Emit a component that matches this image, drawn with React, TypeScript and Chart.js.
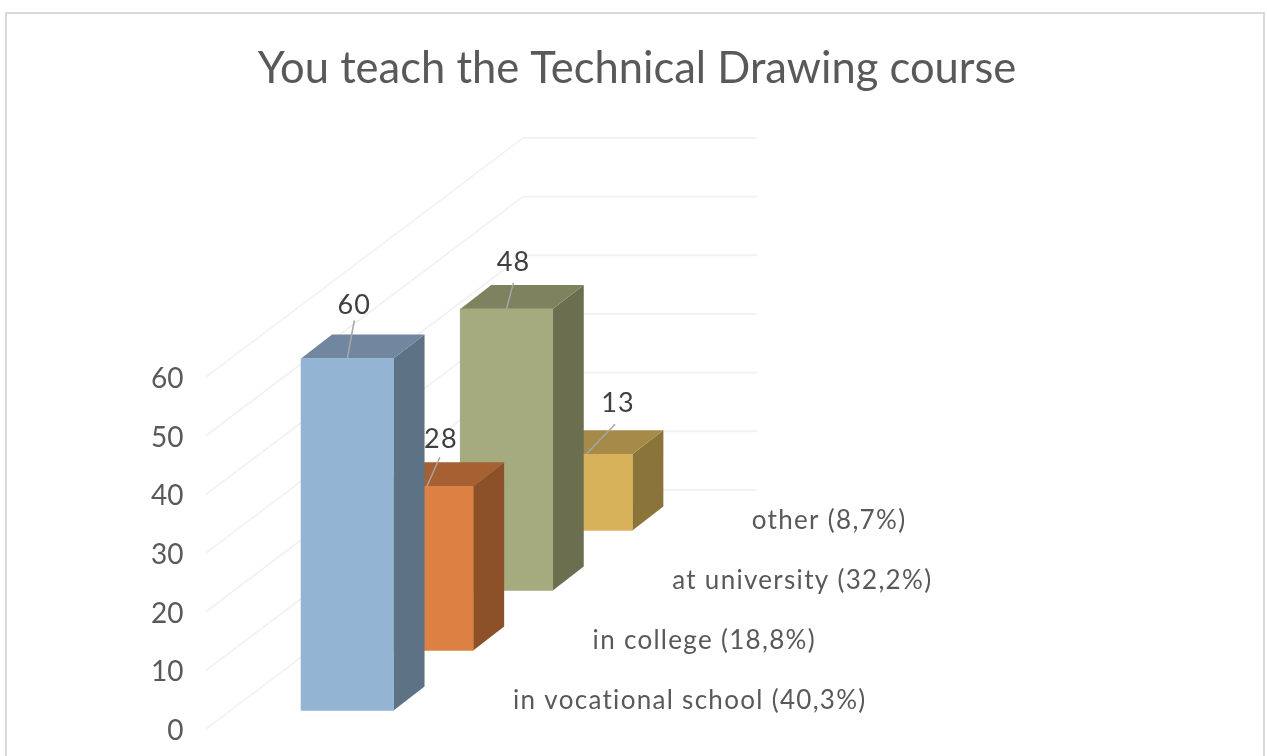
import React, { useEffect, useRef } from "react";
import { Chart, BarController, registerables } from "chart.js";

const TITLE = "You teach the Technical Drawing course";
const categories = [
  "in vocational school (40,3%)",
  "in college (18,8%)",
  "at university (32,2%)",
  "other (8,7%)",
];
const seriesValues = [60, 28, 48, 13];
const yTickStep = 10;
const yMax = 60;

const frontColors = ["#93B4D2", "#DD8044", "#A5AA7F", "#D8B25B"];
const sideColors = ["#5E7286", "#8C5128", "#6B6F50", "#8A743A"];
const topColors = ["#70879F", "#A66032", "#7F825F", "#A68A47"];

const FONT = "Lato, 'Open Sans', sans-serif";

const FLOOR_INSET = 18.5;
const ROW_RISE = 60;
const BOX_DX = 31;
const BOX_DY = 24;

class Bar3DController extends BarController {
  static id = "bar3d";
  static defaults = BarController.defaults;
  static overrides = BarController.overrides;

  updateElements(bars: any[], start: number, count: number, mode: any) {
    super.updateElements(bars, start, count, mode);
    for (let i = start; i < start + count; i++) {
      const shift = FLOOR_INSET + ROW_RISE * i;
      bars[i].y -= shift;
      bars[i].base -= shift;
    }
  }

  draw() {
    const ctx = this.chart.ctx;
    const bars = this.getMeta().data as any[];
    for (let i = bars.length - 1; i >= 0; i--) {
      const b = bars[i];
      const l = b.x - b.width / 2;
      const r = b.x + b.width / 2;
      ctx.save();
      ctx.fillStyle = sideColors[i];
      ctx.beginPath();
      ctx.moveTo(r, b.y);
      ctx.lineTo(r + BOX_DX, b.y - BOX_DY);
      ctx.lineTo(r + BOX_DX, b.base - BOX_DY);
      ctx.lineTo(r, b.base);
      ctx.closePath();
      ctx.fill();
      ctx.fillStyle = topColors[i];
      ctx.beginPath();
      ctx.moveTo(l, b.y);
      ctx.lineTo(l + BOX_DX, b.y - BOX_DY);
      ctx.lineTo(r + BOX_DX, b.y - BOX_DY);
      ctx.lineTo(r, b.y);
      ctx.closePath();
      ctx.fill();
      ctx.restore();
      b.draw(ctx);
    }
  }
}

const WALL_DX = 317;
const WALL_DY = 239;
const WALL_FRONT_X = 206;
const WALL_RIGHT_X = 757;

const LEADER_ENDS = [[7, -38], [13, -29], [7, -26], [29, -30]];
const LABEL_OFFSETS = [[7, -53], [14, -47], [7, -47], [32, -51]];

const threeD = {
  id: "threeD",
  beforeDraw(chart: any) {
    const { ctx, width } = chart;
    ctx.save();
    ctx.fillStyle = "#FFFFFF";
    ctx.fillRect(0, 0, width, chart.height);
    ctx.strokeStyle = "#D9D9D9";
    ctx.lineWidth = 2;
    ctx.strokeRect(6, 13, width - 9, chart.height + 40);
    ctx.restore();
    for (const item of chart.scales.y.getLabelItems()) {
      item.textOffset = 2;
    }
  },
  afterLayout(chart: any) {
    const t = chart.titleBlock;
    t.left = 0;
    t.right = 1274;
    t.top = 43;
    t.bottom = t.top + t.height;
  },
  beforeDatasetsDraw(chart: any) {
    const { ctx } = chart;
    const y = chart.scales.y;
    ctx.save();
    for (const tick of y.ticks) {
      const py = y.getPixelForValue(tick.value);
      ctx.strokeStyle = "#F0F0F0";
      ctx.lineWidth = 1.5;
      ctx.beginPath();
      ctx.moveTo(WALL_FRONT_X, py);
      ctx.lineTo(WALL_FRONT_X + WALL_DX, py - WALL_DY);
      ctx.stroke();
      ctx.strokeStyle = "#F2F2F2";
      ctx.lineWidth = 2;
      ctx.beginPath();
      ctx.moveTo(WALL_FRONT_X + WALL_DX, py - WALL_DY);
      ctx.lineTo(WALL_RIGHT_X, py - WALL_DY);
      ctx.stroke();
    }
    ctx.restore();
  },
  afterDatasetsDraw(chart: any) {
    const { ctx } = chart;
    const bars = chart.getDatasetMeta(0).data;
    const x = chart.scales.x;
    ctx.save();
    bars.forEach((b: any, i: number) => {
      ctx.strokeStyle = "#A6A6A6";
      ctx.lineWidth = 1.5;
      ctx.beginPath();
      ctx.moveTo(b.x, b.y);
      ctx.lineTo(b.x + LEADER_ENDS[i][0], b.y + LEADER_ENDS[i][1]);
      ctx.stroke();
      ctx.fillStyle = "#404040";
      ctx.letterSpacing = "1.2px";
      ctx.font = `27px ${FONT}`;
      ctx.textAlign = "center";
      ctx.textBaseline = "middle";
      ctx.fillText(String(seriesValues[i]), b.x + LABEL_OFFSETS[i][0], b.y + LABEL_OFFSETS[i][1]);
      ctx.fillStyle = "#595959";
      ctx.letterSpacing = "1.3px";
      ctx.font = `26px ${FONT}`;
      ctx.textAlign = "left";
      ctx.fillText(x.getLabelForValue(i), b.x + 165.7, b.base - 9.5);
    });
    ctx.restore();
  },
};

export default function App() {
  const ref = useRef<HTMLCanvasElement | null>(null);
  useEffect(() => {
    Chart.register(...registerables, Bar3DController);
    const chart = new Chart(ref.current as HTMLCanvasElement, {
      type: "bar3d" as any,
      data: {
        labels: categories,
        datasets: [
          {
            data: seriesValues,
            backgroundColor: frontColors,
            barThickness: 92.5,
            clip: false,
          } as any,
        ],
      },
      options: {
        responsive: false,
        animation: false,
        layout: { padding: { left: 0, right: 641.1, top: 324.8, bottom: 27 } },
        plugins: {
          legend: { display: false },
          tooltip: { enabled: false },
          title: {
            display: true,
            text: TITLE,
            color: "#595959",
            font: { family: FONT, size: 43.5, weight: "normal" },
            padding: { top: 0, bottom: 0 },
          },
        },
        scales: {
          x: { type: "category", display: false, offset: true },
          y: {
            min: 0,
            max: yMax,
            afterFit(scale: any) {
              scale.width = 307.5;
              scale.paddingTop = 0;
              scale.paddingBottom = 0;
            },
            grid: { display: false },
            border: { display: false },
            ticks: {
              stepSize: yTickStep,
              padding: 116,
              color: "#595959",
              font: { family: FONT, size: 28 },
            },
          },
        },
      },
      plugins: [threeD],
    } as any);
    return () => chart.destroy();
  }, []);
  return (
    <canvas
      ref={ref}
      width={1267}
      height={756}
      style={{ position: "fixed", left: 0, top: 0, display: "block" }}
    />
  );
}
